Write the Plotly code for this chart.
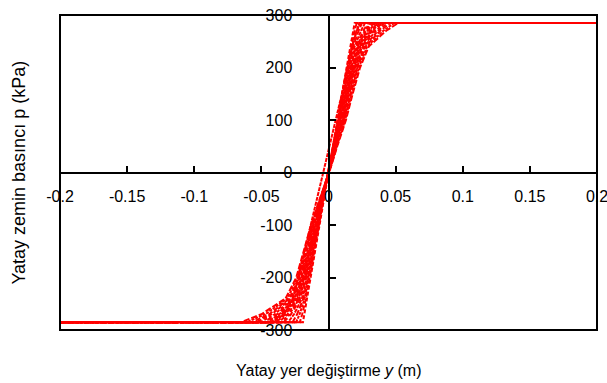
import plotly.graph_objects as go

# Soil pressure levels (kPa) at which each p-y curve is tabulated
P_LEVELS = [-285, -270, -240, -200, -150, -100, -50, 0,
            50, 100, 150, 200, 240, 270, 285]

# Lateral displacement (m) of each curve at the pressure levels above,
# from the stiffest curve to the softest one
CURVE_Y = [
    [-0.0190, -0.0180, -0.0160, -0.0135, -0.0100, -0.0068, -0.0035, -0.0005, 0.0030, 0.0065, 0.0100, 0.0135, 0.0162, 0.0182, 0.0195],
    [-0.0213, -0.0196, -0.0168, -0.0140, -0.0104, -0.0071, -0.0037, -0.0004, 0.0032, 0.0068, 0.0104, 0.0140, 0.0169, 0.0194, 0.0211],
    [-0.0241, -0.0215, -0.0178, -0.0147, -0.0109, -0.0075, -0.0038, -0.0004, 0.0034, 0.0072, 0.0109, 0.0146, 0.0177, 0.0209, 0.0231],
    [-0.0268, -0.0234, -0.0187, -0.0153, -0.0114, -0.0079, -0.0040, -0.0003, 0.0036, 0.0076, 0.0114, 0.0152, 0.0185, 0.0224, 0.0250],
    [-0.0300, -0.0257, -0.0198, -0.0160, -0.0120, -0.0083, -0.0042, -0.0003, 0.0038, 0.0081, 0.0119, 0.0159, 0.0195, 0.0242, 0.0273],
    [-0.0333, -0.0279, -0.0210, -0.0168, -0.0126, -0.0087, -0.0044, -0.0002, 0.0041, 0.0085, 0.0125, 0.0166, 0.0205, 0.0259, 0.0296],
    [-0.0351, -0.0292, -0.0216, -0.0172, -0.0130, -0.0090, -0.0046, -0.0002, 0.0043, 0.0088, 0.0128, 0.0170, 0.0211, 0.0269, 0.0309],
    [-0.0369, -0.0305, -0.0222, -0.0176, -0.0133, -0.0092, -0.0047, -0.0001, 0.0044, 0.0090, 0.0131, 0.0174, 0.0216, 0.0279, 0.0322],
    [-0.0390, -0.0320, -0.0230, -0.0181, -0.0137, -0.0095, -0.0048, -0.0001, 0.0046, 0.0093, 0.0135, 0.0179, 0.0222, 0.0290, 0.0337],
    [-0.0411, -0.0334, -0.0237, -0.0185, -0.0141, -0.0098, -0.0049, 0.0000, 0.0047, 0.0096, 0.0138, 0.0183, 0.0228, 0.0301, 0.0351],
    [-0.0434, -0.0350, -0.0245, -0.0191, -0.0145, -0.0101, -0.0051, 0.0000, 0.0049, 0.0100, 0.0142, 0.0188, 0.0235, 0.0314, 0.0368],
    [-0.0457, -0.0366, -0.0253, -0.0196, -0.0149, -0.0104, -0.0052, 0.0001, 0.0050, 0.0103, 0.0146, 0.0193, 0.0242, 0.0326, 0.0384],
    [-0.0482, -0.0384, -0.0262, -0.0202, -0.0154, -0.0108, -0.0054, 0.0001, 0.0052, 0.0107, 0.0151, 0.0199, 0.0250, 0.0340, 0.0402],
    [-0.0507, -0.0401, -0.0270, -0.0207, -0.0159, -0.0111, -0.0056, 0.0002, 0.0054, 0.0110, 0.0155, 0.0204, 0.0257, 0.0353, 0.0419],
    [-0.0537, -0.0422, -0.0281, -0.0214, -0.0165, -0.0115, -0.0058, 0.0002, 0.0057, 0.0114, 0.0161, 0.0211, 0.0266, 0.0369, 0.0441],
    [-0.0567, -0.0442, -0.0291, -0.0221, -0.0170, -0.0119, -0.0060, 0.0003, 0.0059, 0.0118, 0.0166, 0.0217, 0.0275, 0.0385, 0.0462],
    [-0.0609, -0.0471, -0.0306, -0.0231, -0.0178, -0.0125, -0.0063, 0.0004, 0.0062, 0.0124, 0.0173, 0.0226, 0.0288, 0.0408, 0.0491],
    [-0.0650, -0.0500, -0.0320, -0.0240, -0.0185, -0.0130, -0.0065, 0.0005, 0.0065, 0.0130, 0.0180, 0.0235, 0.0300, 0.0430, 0.0520],
    [-0.0420, -0.0330, -0.0265, -0.0225, -0.0178, -0.0130, -0.0085, -0.0039, 0.0010, 0.0058, 0.0100, 0.0140, 0.0175, 0.0210, 0.0240],
]

# Axis limits and tick labels
Y_LIMITS = [-0.2, 0.2]
P_LIMITS = [-300, 300]
X_TICKS = [-0.2, -0.15, -0.1, -0.05, 0, 0.05, 0.1, 0.15, 0.2]
X_TICK_TEXT = ["-0.2", "-0.15", "-0.1", "-0.05", "0", "0.05", "0.1", "0.15", "0.2"]
P_TICKS = [-300, -200, -100, 0, 100, 200, 300]
P_TICK_TEXT = ["-300", "-200", "-100", "0", "100", "200", "300"]

# dash patterns cycled over the curves so the shared plateaus read as solid
DASHES = ["4px,2px", "5px,2px", "3px,1px", "6px,2px", "4px,1px", "5px,3px", "3px,2px"]

fig = go.Figure()

for i, ys in enumerate(CURVE_Y):
    # the ultimate resistance stays constant out to the ends of the axis
    xs = [Y_LIMITS[0]] + ys + [Y_LIMITS[1]]
    ps = [P_LEVELS[0]] + P_LEVELS + [P_LEVELS[-1]]
    fig.add_trace(go.Scatter(
        x=xs, y=ps, mode="lines",
        line=dict(color="#ff0000", width=2, dash=DASHES[i % len(DASHES)]),
        showlegend=False, hoverinfo="skip",
    ))

tick_font = dict(family="Liberation Sans, Arial, sans-serif", size=16, color="#000")
xtitle_font = dict(family="Liberation Sans, Arial, sans-serif", size=16, color="#000")
ytitle_font = dict(family="Liberation Sans, Arial, sans-serif", size=18, color="#000")

fig.update_layout(
    width=607, height=383,
    margin=dict(l=60, r=10, t=15, b=53, autoexpand=False),
    paper_bgcolor="white", plot_bgcolor="white",
    xaxis=dict(
        range=Y_LIMITS, tickvals=X_TICKS, ticktext=X_TICK_TEXT,
        anchor="free", position=0.5, automargin=False,
        showline=True, linecolor="black", linewidth=2,
        ticks="inside", ticklen=6, tickwidth=2, tickcolor="black",
        ticklabelstandoff=9, ticklabeloverflow="allow",
        showgrid=False, zeroline=False, tickfont=tick_font,
    ),
    yaxis=dict(
        range=P_LIMITS, tickvals=P_TICKS, ticktext=P_TICK_TEXT,
        anchor="free", position=0.5, automargin=False,
        showline=True, linecolor="black", linewidth=2,
        ticks="inside", ticklen=6, tickwidth=2, tickcolor="black",
        ticklabelstandoff=32, ticklabeloverflow="allow",
        showgrid=False, zeroline=False, tickfont=tick_font,
    ),
    shapes=[dict(type="rect", xref="paper", yref="paper", x0=0, y0=0, x1=1, y1=1,
                 line=dict(color="black", width=2), layer="above")],
    annotations=[
        dict(text="Yatay zemin basıncı p (kPa)", xref="paper", yref="paper",
             x=-0.078, y=0.5, textangle=-90, showarrow=False,
             xanchor="center", yanchor="middle", font=ytitle_font),
        dict(text="Yatay yer değiştirme <i>y</i> (m)", xref="paper", yref="paper",
             x=0.5, y=-0.127, showarrow=False,
             xanchor="center", yanchor="middle", font=xtitle_font),
    ],
)

fig.write_html("out.html")
